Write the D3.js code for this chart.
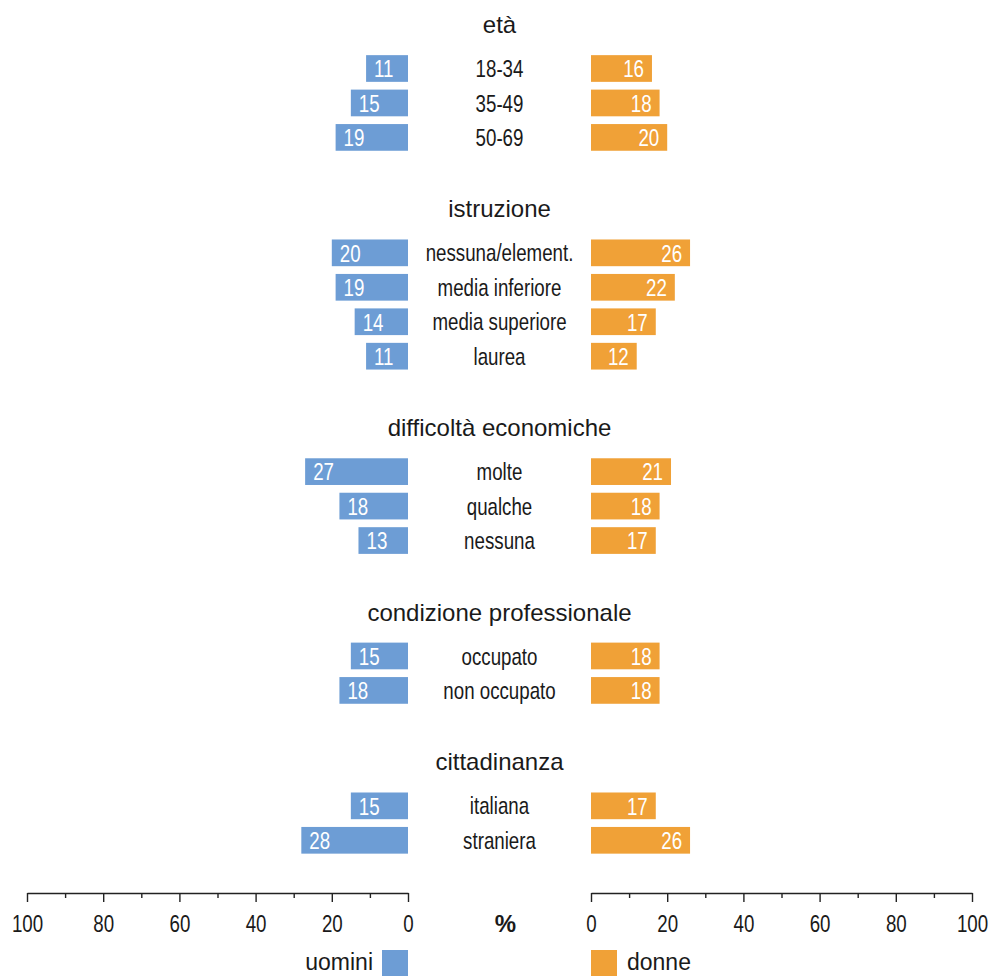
<!DOCTYPE html>
<html>
<head>
<meta charset="utf-8">
<script src="https://cdn.jsdelivr.net/npm/d3@7"></script>
<style>
  body { margin: 0; background: #fff; }
  svg text { font-family: "Liberation Sans", Arial, sans-serif; fill: #1a1a1a; }
</style>
</head>
<body>
<svg id="chart" width="991" height="976"></svg>
<script>
const groupTitles = ["età", "istruzione", "difficoltà economiche", "condizione professionale", "cittadinanza"];
const categories = [
  ["18-34", "35-49", "50-69"],
  ["nessuna/element.", "media inferiore", "media superiore", "laurea"],
  ["molte", "qualche", "nessuna"],
  ["occupato", "non occupato"],
  ["italiana", "straniera"]
];
const uomini = [[11, 15, 19], [20, 19, 14, 11], [27, 18, 13], [15, 18], [15, 28]];
const donne = [[16, 18, 20], [26, 22, 17, 12], [21, 18, 17], [18, 18], [17, 26]];
const tickMajor = [0, 20, 40, 60, 80, 100];
const tickMinor = [10, 30, 50, 70, 90];

const BLUE = "#6d9dd5";
const ORANGE = "#f0a137";
const GROUP_GAP = 3.35; // slots between groups
const NARROW = 0.78;    // horizontal squeeze to mimic a condensed face

const svg = d3.select("#chart");

// flatten rows, slot position = index along the vertical
let rows = [];
let slot = 0;
groupTitles.forEach((t, g) => {
  if (g > 0) slot += GROUP_GAP - 1;
  categories[g].forEach((c, i) => {
    rows.push({ group: g, first: i === 0, label: c, m: uomini[g][i], f: donne[g][i], slot: slot });
    slot += 1;
  });
});
const lastSlot = rows[rows.length - 1].slot;

const y = d3.scaleLinear().domain([0, lastSlot]).range([68.5, 840.3]);
const xL = d3.scaleLinear().domain([0, 100]).range([408, 27]);
const xR = d3.scaleLinear().domain([0, 100]).range([591, 972]);
const barH = 26.7;
const midX = (xL(0) + xR(0)) / 2;

// group titles
svg.append("g").selectAll("text")
  .data(rows.filter(d => d.first))
  .join("text")
  .attr("x", midX)
  .attr("y", d => y(d.slot) - barH / 2 - 22)
  .attr("text-anchor", "middle")
  .attr("font-size", 24)
  .text(d => groupTitles[d.group]);

// bars
const row = svg.append("g").selectAll("g")
  .data(rows)
  .join("g")
  .attr("transform", d => `translate(0,${y(d.slot)})`);

row.append("rect")
  .attr("x", d => xL(d.m))
  .attr("y", -barH / 2)
  .attr("width", d => xL(0) - xL(d.m))
  .attr("height", barH)
  .attr("fill", BLUE);

row.append("rect")
  .attr("x", xR(0))
  .attr("y", -barH / 2)
  .attr("width", d => xR(d.f) - xR(0))
  .attr("height", barH)
  .attr("fill", ORANGE);

row.append("text")
  .attr("transform", d => `translate(${xL(d.m) + 8},8.8) scale(${NARROW},1)`)
  .attr("font-size", 24)
  .style("fill", "#fff")
  .text(d => d.m);

row.append("text")
  .attr("transform", d => `translate(${xR(d.f) - 8},8.8) scale(${NARROW},1)`)
  .attr("text-anchor", "end")
  .attr("font-size", 24)
  .style("fill", "#fff")
  .text(d => d.f);

row.append("text")
  .attr("transform", `translate(${midX},8.6) scale(${NARROW},1)`)
  .attr("text-anchor", "middle")
  .attr("font-size", 24)
  .text(d => d.label);

// axes
const axisY = 893;
function drawAxis(scale) {
  const minor = svg.append("g")
    .attr("transform", `translate(0,${axisY})`)
    .call(d3.axisBottom(scale).tickValues(tickMinor).tickSize(5).tickSizeOuter(0).tickFormat(""));
  minor.select(".domain").remove();
  const major = svg.append("g")
    .attr("transform", `translate(0,${axisY})`)
    .call(d3.axisBottom(scale).tickValues(tickMajor).tickSize(9).tickSizeOuter(0).tickPadding(13));
  major.selectAll("text")
    .attr("font-size", 24)
    .attr("font-family", null)
    .attr("transform", `scale(${NARROW},1)`)
    .style("fill", "#1a1a1a");
  svg.selectAll(".tick line, .domain").attr("stroke", "#222").attr("stroke-width", 1.4);
}
drawAxis(xL);
drawAxis(xR);

svg.append("text")
  .attr("x", midX + 6)
  .attr("y", 932)
  .attr("text-anchor", "middle")
  .attr("font-size", 24)
  .attr("font-weight", "bold")
  .text("%");

// legend
svg.append("rect").attr("x", xL(0) - 26).attr("y", 950).attr("width", 26).attr("height", 26).attr("fill", BLUE);
svg.append("rect").attr("x", xR(0)).attr("y", 950).attr("width", 26).attr("height", 26).attr("fill", ORANGE);
svg.append("text").attr("x", xL(0) - 35).attr("y", 970).attr("text-anchor", "end").attr("font-size", 23).text("uomini");
svg.append("text").attr("x", xR(0) + 36).attr("y", 970).attr("font-size", 23).text("donne");
</script>
</body>
</html>
